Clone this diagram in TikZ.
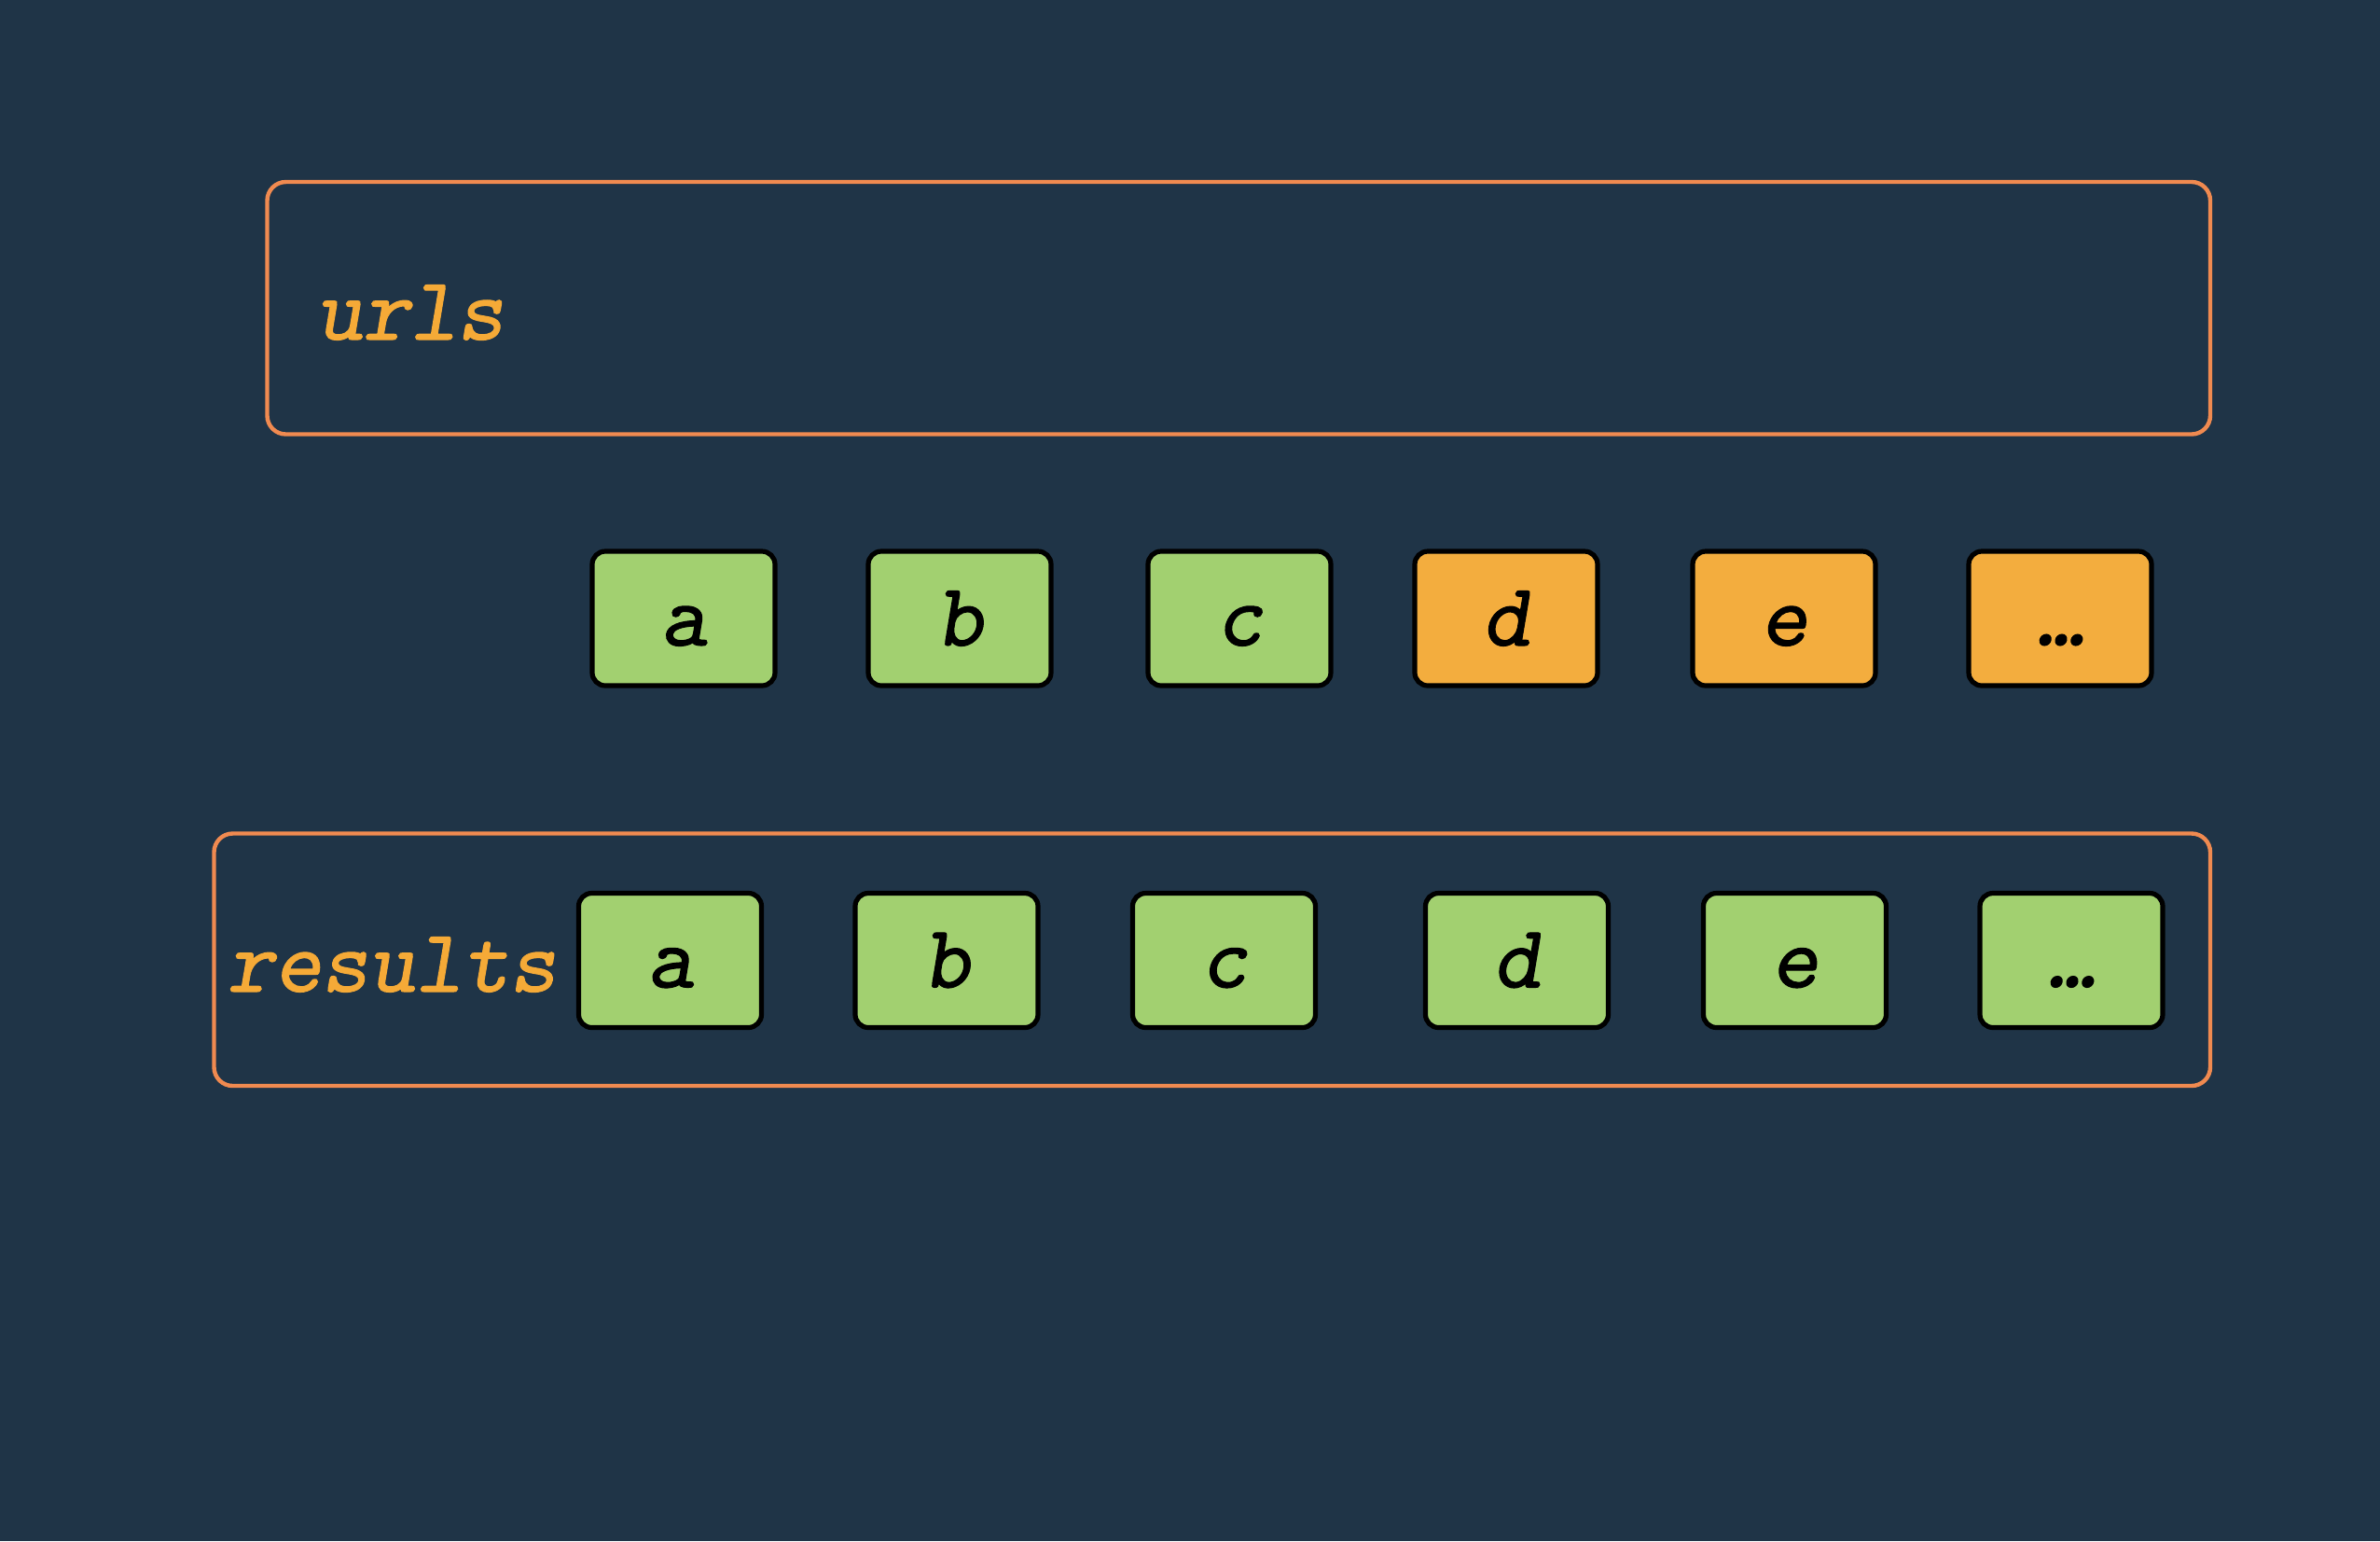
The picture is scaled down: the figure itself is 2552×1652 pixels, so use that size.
\documentclass[tikz,border=0pt]{standalone}
\usepackage{fontspec}
\newfontfamily\codefont{lmmonoslant10-regular.otf}[FakeBold=1.1]
\usetikzlibrary{positioning}
\definecolor{bgblue}{HTML}{1F3447}
\definecolor{panelorange}{HTML}{F08A50}
\definecolor{tagorange}{HTML}{F5AA37}
\definecolor{cellgreen}{HTML}{A2D070}
\definecolor{cellorange}{HTML}{F3AD3E}

\begin{document}
\begin{tikzpicture}[
			x=0.25pt, y=-0.25pt,
			every node/.style={font=\codefont\fontsize{24}{28}\selectfont},
			panel/.style={draw=panelorange, line width=1.1pt, rounded corners=5pt},
			cell/.style={draw=black, line width=1.3pt, rounded corners=3.5pt, inner sep=0pt,
				minimum width=49pt, minimum height=36pt, text height=14.5pt, text depth=0pt},
			done/.style={cell, fill=cellgreen},
			todo/.style={cell, fill=cellorange},
			tag/.style={text=tagorange, anchor=base west, inner sep=0pt}
			]

				\fill[bgblue] (0,0) rectangle (2552,1652);
				\useasboundingbox (0,0) rectangle (2552,1652);

				% urls panel
				\draw[panel] (286.5,195) rectangle (2370,465.5);
				\node[tag] (urls) at (338,364) {urls};

				\node[done] (u1) at (733,663) {a};
				\node[done] (u2) at (1029,663) {b};
				\node[done] (u3) at (1329,663) {c};
				\node[todo] (u4) at (1615,663) {d};
				\node[todo] (u5) at (1913,663) {e};
				\node[todo] (u6) at (2209,663) {…};

				% results panel
				\draw[panel] (229.5,893.5) rectangle (2370,1164);
				\node[tag] (results) at (243,1063) {results};

				\node[done] (r1) at (718.5,1029.5) {a};
				\node[done] (r2) at (1015,1029.5) {b};
				\node[done] (r3) at (1312.5,1029.5) {c};
				\node[done] (r4) at (1626.5,1029.5) {d};
				\node[done] (r5) at (1924.5,1029.5) {e};
				\node[done] (r6) at (2221,1029.5) {…};

			\end{tikzpicture}
\end{document}
